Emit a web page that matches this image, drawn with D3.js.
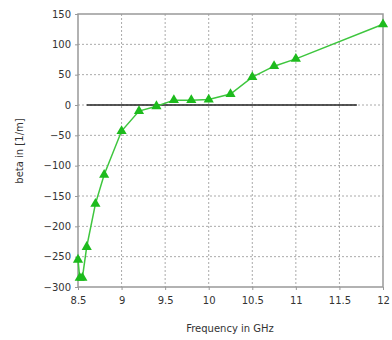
<!DOCTYPE html>
<html>
<head>
<meta charset="utf-8">
<script src="https://cdn.jsdelivr.net/npm/d3@7"></script>
<style>
  body { margin: 0; background: #fff; }
  text { font-family: "DejaVu Sans", sans-serif; fill: #333; }
</style>
</head>
<body>
<svg id="chart" width="392" height="340"></svg>
<script>
// frequency (GHz) and beta (1/m)
var freq = [8.5, 8.52, 8.55, 8.6, 8.7, 8.8, 9.0, 9.2, 9.4, 9.6, 9.8, 10.0, 10.25, 10.5, 10.75, 11.0, 12.0];
var beta = [-255, -285, -285, -234, -163, -115, -43, -10, -2, 8, 8, 9, 18, 46, 64, 76, 133];
var xTicks = [8.5, 9, 9.5, 10, 10.5, 11, 11.5, 12];
var yTicks = [150, 100, 50, 0, -50, -100, -150, -200, -250, -300];
var zeroLine = [8.6, 11.7];

var svg = d3.select("#chart"),
    margin = {top: 14, left: 78, bottom: 53, right: 8},
    width = +svg.attr("width"),
    height = +svg.attr("height");

var data = freq.map((f, i) => ({f: f, b: beta[i]}));

var x = d3.scaleLinear()
    .domain([8.5, 12])
    .range([margin.left, width - margin.right - 1]);

var y = d3.scaleLinear()
    .domain([-300, 150])
    .range([height - margin.bottom, margin.top]);

// grid
svg.append("g")
    .selectAll("line.vg")
    .data(xTicks.slice(1, -1))
  .enter().append("line")
    .attr("x1", d => x(d)).attr("x2", d => x(d))
    .attr("y1", y(150)).attr("y2", y(-300))
    .attr("stroke", "#aaa")
    .attr("stroke-dasharray", "2,2");

svg.append("g")
    .selectAll("line.hg")
    .data(yTicks.slice(1, -1))
  .enter().append("line")
    .attr("x1", x(8.5)).attr("x2", x(12))
    .attr("y1", d => y(d)).attr("y2", d => y(d))
    .attr("stroke", "#aaa")
    .attr("stroke-dasharray", "2,2");

// frame
svg.append("rect")
    .attr("x", x(8.5)).attr("y", y(150))
    .attr("width", x(12) - x(8.5))
    .attr("height", y(-300) - y(150))
    .attr("fill", "none")
    .attr("stroke", "#999")
    .attr("stroke-width", 1.5);

// axes
var xAxis = svg.append("g")
    .attr("transform", "translate(0," + y(-300) + ")")
    .call(d3.axisBottom(x).tickValues(xTicks).tickSize(3).tickSizeOuter(0)
      .tickFormat(d3.format("")));
var yAxis = svg.append("g")
    .attr("transform", "translate(" + x(8.5) + ",0)")
    .call(d3.axisLeft(y).tickValues(yTicks).tickSize(3).tickSizeOuter(0));

[xAxis, yAxis].forEach(g => {
  g.select(".domain").remove();
  g.selectAll(".tick line").attr("stroke", "#999");
  g.selectAll(".tick text").attr("font-size", 10).style("fill", "#333");
});
xAxis.selectAll(".tick text").attr("dy", "1.1em");
yAxis.selectAll(".tick text").attr("x", -7);

// zero reference line
svg.append("line")
    .attr("x1", x(zeroLine[0])).attr("x2", x(zeroLine[1]))
    .attr("y1", y(0)).attr("y2", y(0))
    .attr("stroke", "#222")
    .attr("stroke-width", 1.3);

// series
var line = d3.line().x(d => x(d.f)).y(d => y(d.b));
svg.append("path")
    .datum(data)
    .attr("d", line)
    .attr("fill", "none")
    .attr("stroke", "#3ec63e")
    .attr("stroke-width", 1.5);

svg.selectAll(".pt")
    .data(data)
  .enter().append("path")
    .attr("class", "pt")
    .attr("transform", d => "translate(" + x(d.f) + "," + y(d.b) + ")")
    .attr("d", d3.symbol().type(d3.symbolTriangle).size(45))
    .attr("fill", "#1dbb1d");

// labels
svg.append("text")
    .attr("x", 230).attr("y", 332)
    .attr("text-anchor", "middle")
    .attr("font-size", 10)
    .text("Frequency in GHz");

svg.append("text")
    .attr("transform", "translate(23,151) rotate(-90)")
    .attr("text-anchor", "middle")
    .attr("font-size", 10)
    .text("beta in [1/m]");
</script>
</body>
</html>
